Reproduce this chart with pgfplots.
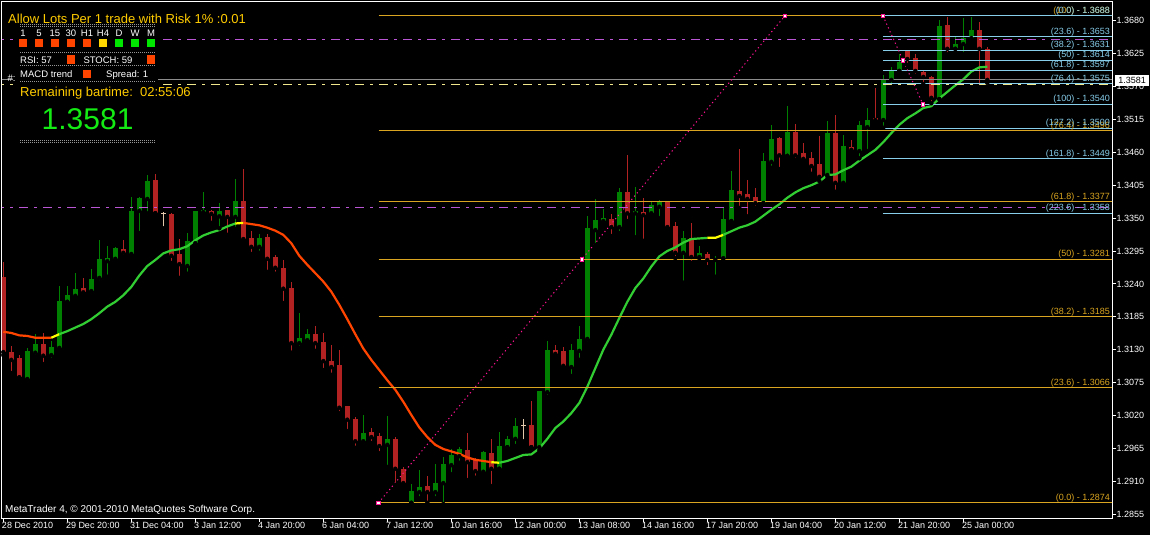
\documentclass[border=0pt]{standalone}
\usepackage{pgfplots}
\pgfplotsset{compat=1.18}
\usepackage{pgfplotstable}
\usepackage{fontspec}
\setmainfont{Liberation Sans}

\definecolor{mtred}{RGB}{178,34,34}
\definecolor{mtgreen}{RGB}{0,128,0}
\definecolor{doji}{RGB}{225,200,170}
\definecolor{maorange}{RGB}{255,69,0}
\definecolor{magreen}{RGB}{50,205,50}
\definecolor{mayellow}{RGB}{255,255,0}
\definecolor{fibor}{RGB}{218,165,32}
\definecolor{fibbl}{RGB}{135,206,235}
\definecolor{orchid}{RGB}{186,85,211}
\definecolor{trend}{RGB}{255,20,147}
\definecolor{bidgray}{RGB}{140,140,140}
\definecolor{khaki}{RGB}{240,230,140}
\definecolor{txtgold}{RGB}{255,204,0}
\definecolor{biggreen}{RGB}{20,235,20}
\definecolor{sqred}{RGB}{255,69,0}
\definecolor{sqyel}{RGB}{255,215,0}
\definecolor{sqgrn}{RGB}{0,230,0}
\definecolor{dots}{RGB}{150,150,150}

\newcommand{\fs}[1]{\fontsize{#1}{#1}\selectfont}
\newcommand{\fiblab}[3]{\node[anchor=base east, inner sep=0pt, text=#1, font=\fs{9}, yshift=2.5pt] at (axis cs:138.34,#2) {#3};}

% H4 bars: index, open, high, low, close, type (1 up, -1 down, 0 doji)
\pgfplotstableread{
i o h l c t
0 1.3252 1.3277 1.3121 1.3126 -1
1 1.3126 1.3136 1.3091 1.3113 -1
2 1.3116 1.3121 1.3083 1.3084 -1
3 1.3081 1.3133 1.3080 1.3128 1
4 1.3125 1.3156 1.3118 1.3140 1
5 1.3140 1.3158 1.3106 1.3120 -1
6 1.3121 1.3145 1.3113 1.3135 1
7 1.3133 1.3237 1.3128 1.3211 1
8 1.3210 1.3237 1.3210 1.3221 1
9 1.3220 1.3258 1.3216 1.3232 1
10 1.3233 1.3250 1.3223 1.3226 -1
11 1.3228 1.3265 1.3225 1.3248 1
12 1.3250 1.3313 1.3243 1.3282 1
13 1.3278 1.3303 1.3252 1.3283 1
14 1.3282 1.3302 1.3277 1.3300 1
15 1.3298 1.3313 1.3285 1.3292 -1
16 1.3290 1.3385 1.3287 1.3362 1
17 1.3362 1.3385 1.3325 1.3384 1
18 1.3382 1.3422 1.3358 1.3412 1
19 1.3414 1.3424 1.3358 1.3358 -1
20 1.3358 1.3360 1.3333 1.3358 0
21 1.3357 1.3358 1.3275 1.3287 -1
22 1.3290 1.3315 1.3250 1.3273 -1
23 1.3270 1.3325 1.3257 1.3312 1
24 1.3308 1.3362 1.3302 1.3362 1
25 1.3360 1.3394 1.3355 1.3364 1
26 1.3362 1.3364 1.3342 1.3357 -1
27 1.3353 1.3375 1.3333 1.3362 1
28 1.3364 1.3364 1.3322 1.3352 -1
29 1.3352 1.3415 1.3332 1.3379 1
30 1.3379 1.3432 1.3312 1.3315 -1
31 1.3317 1.3328 1.3290 1.3302 -1
32 1.3302 1.3323 1.3292 1.3317 1
33 1.3318 1.3323 1.3260 1.3282 -1
34 1.3285 1.3288 1.3257 1.3267 -1
35 1.3267 1.3280 1.3208 1.3232 -1
36 1.3233 1.3243 1.3125 1.3141 -1
37 1.3141 1.3191 1.3133 1.3150 1
38 1.3146 1.3165 1.3140 1.3156 1
39 1.3156 1.3170 1.3128 1.3141 -1
40 1.3143 1.3158 1.3096 1.3111 -1
41 1.3111 1.3138 1.3088 1.3101 -1
42 1.3104 1.3130 1.3024 1.3033 -1
43 1.3036 1.3036 1.2994 1.3013 -1
44 1.3014 1.3018 1.2966 1.2977 -1
45 1.2977 1.3021 1.2972 1.2991 1
46 1.2992 1.2999 1.2974 1.2984 -1
47 1.2986 1.2991 1.2957 1.2969 -1
48 1.2971 1.3019 1.2934 1.2981 1
49 1.2981 1.2984 1.2904 1.2931 -1
50 1.2931 1.2934 1.2902 1.2907 -1
51 1.2874 1.2906 1.2874 1.2894 1
52 1.2892 1.2929 1.2882 1.2901 1
53 1.2902 1.2919 1.2874 1.2892 -1
54 1.2892 1.2939 1.2882 1.2907 1
55 1.2907 1.2951 1.2872 1.2939 1
56 1.2937 1.2964 1.2922 1.2954 1
57 1.2952 1.2967 1.2941 1.2964 1
58 1.2962 1.2991 1.2912 1.2942 -1
59 1.2946 1.2949 1.2916 1.2927 -1
60 1.2926 1.2961 1.2924 1.2959 1
61 1.2957 1.2981 1.2902 1.2931 -1
62 1.2931 1.2992 1.2931 1.2969 1
63 1.2967 1.2986 1.2967 1.2981 1
64 1.2981 1.3016 1.2969 1.3002 1
65 1.3004 1.3014 1.2977 1.3004 0
66 1.3004 1.3044 1.2967 1.2967 -1
67 1.2967 1.3061 1.2962 1.3061 1
68 1.3059 1.3145 1.3051 1.3130 1
69 1.3130 1.3138 1.3121 1.3123 -1
70 1.3128 1.3135 1.3098 1.3103 -1
71 1.3101 1.3140 1.3086 1.3130 1
72 1.3128 1.3170 1.3113 1.3148 1
73 1.3148 1.3353 1.3141 1.3333 1
74 1.3330 1.3382 1.3305 1.3347 1
75 1.3345 1.3365 1.3340 1.3350 1
76 1.3348 1.3357 1.3320 1.3335 -1
77 1.3335 1.3400 1.3325 1.3394 1
78 1.3394 1.3455 1.3345 1.3358 -1
79 1.3358 1.3402 1.3318 1.3362 1
80 1.3360 1.3384 1.3312 1.3355 -1
81 1.3358 1.3379 1.3352 1.3372 1
82 1.3369 1.3380 1.3350 1.3379 1
83 1.3377 1.3377 1.3332 1.3335 -1
84 1.3337 1.3343 1.3283 1.3292 -1
85 1.3292 1.3328 1.3242 1.3317 1
86 1.3317 1.3342 1.3275 1.3285 -1
87 1.3285 1.3303 1.3283 1.3292 1
88 1.3290 1.3293 1.3268 1.3280 -1
89 1.3280 1.3287 1.3252 1.3282 1
90 1.3283 1.3367 1.3282 1.3348 1
91 1.3345 1.3429 1.3345 1.3397 1
92 1.3395 1.3466 1.3367 1.3387 -1
93 1.3390 1.3414 1.3353 1.3382 -1
94 1.3385 1.3400 1.3367 1.3375 -1
95 1.3375 1.3459 1.3375 1.3445 1
96 1.3444 1.3506 1.3434 1.3482 1
97 1.3484 1.3486 1.3432 1.3455 -1
98 1.3454 1.3537 1.3454 1.3494 1
99 1.3494 1.3507 1.3447 1.3455 -1
100 1.3459 1.3476 1.3447 1.3449 -1
101 1.3450 1.3461 1.3424 1.3437 -1
102 1.3440 1.3487 1.3412 1.3419 -1
103 1.3422 1.3512 1.3420 1.3492 1
104 1.3492 1.3522 1.3394 1.3409 -1
105 1.3409 1.3489 1.3407 1.3471 1
106 1.3469 1.3481 1.3459 1.3464 -1
107 1.3462 1.3512 1.3450 1.3506 1
108 1.3502 1.3534 1.3462 1.3514 1
109 1.3517 1.3567 1.3511 1.3514 -1
110 1.3514 1.3589 1.3501 1.3583 1
111 1.3581 1.3603 1.3569 1.3598 1
112 1.3596 1.3624 1.3596 1.3611 1
113 1.3629 1.3631 1.3606 1.3616 -1
114 1.3618 1.3624 1.3588 1.3596 -1
115 1.3594 1.3598 1.3574 1.3586 -1
116 1.3586 1.3588 1.3542 1.3551 -1
117 1.3549 1.3681 1.3549 1.3671 1
118 1.3673 1.3686 1.3624 1.3633 -1
119 1.3633 1.3654 1.3633 1.3641 1
120 1.3641 1.3684 1.3624 1.3651 1
121 1.3651 1.3686 1.3648 1.3664 1
122 1.3664 1.3678 1.3569 1.3633 -1
123 1.3633 1.3636 1.3576 1.3581 -1
}\bars

% moving average
\pgfplotstableread{
i v
0 1.3160
1 1.3158
2 1.3154
3 1.3153
4 1.3150
5 1.3150
6 1.3150
7 1.3156
8 1.3161
9 1.3167
10 1.3173
11 1.3181
12 1.3191
13 1.3202
14 1.3210
15 1.3221
16 1.3235
17 1.3254
18 1.3270
19 1.3280
20 1.3291
21 1.3296
22 1.3298
23 1.3303
24 1.3313
25 1.3321
26 1.3326
27 1.3330
28 1.3336
29 1.3341
30 1.3342
31 1.3340
32 1.3338
33 1.3334
34 1.3329
35 1.3322
36 1.3308
37 1.3287
38 1.3272
39 1.3258
40 1.3244
41 1.3227
42 1.3205
43 1.3181
44 1.3156
45 1.3132
46 1.3113
47 1.3096
48 1.3079
49 1.3063
50 1.3043
51 1.3021
52 1.3000
53 1.2984
54 1.2971
55 1.2964
56 1.2960
57 1.2956
58 1.2950
59 1.2946
60 1.2944
61 1.2942
62 1.2941
63 1.2944
64 1.2949
65 1.2954
66 1.2955
67 1.2965
68 1.2981
69 1.2999
70 1.3010
71 1.3024
72 1.3041
73 1.3068
74 1.3099
75 1.3130
76 1.3155
77 1.3183
78 1.3210
79 1.3233
80 1.3249
81 1.3269
82 1.3286
83 1.3295
84 1.3301
85 1.3309
86 1.3315
87 1.3316
88 1.3317
89 1.3317
90 1.3322
91 1.3328
92 1.3334
93 1.3338
94 1.3344
95 1.3354
96 1.3364
97 1.3373
98 1.3384
99 1.3393
100 1.3400
101 1.3405
102 1.3411
103 1.3422
104 1.3423
105 1.3430
106 1.3436
107 1.3446
108 1.3455
109 1.3464
110 1.3477
111 1.3492
112 1.3506
113 1.3517
114 1.3525
115 1.3534
116 1.3537
117 1.3550
118 1.3561
119 1.3572
120 1.3582
121 1.3595
122 1.3602
123 1.3603
}\ma

\pgfplotsset{
  cwick/.style 2 args={only marks, mark=none, forget plot,
    restrict expr to domain={\thisrow{t}}{#1},
    error bars/.cd, y dir=plus, y explicit, error mark=none,
    error bar style={draw=#2, line width=1pt}},
  cbody/.style 2 args={only marks, mark=none, forget plot,
    restrict expr to domain={\thisrow{t}}{#1},
    error bars/.cd, y dir=plus, y explicit, error mark=none,
    error bar style={draw=#2, line width=5pt}},
  maline/.style 2 args={#1, line width=2.2pt, line join=round, forget plot,
    restrict x to domain=#2},
  hline/.style={line width=1pt, forget plot},
}

\begin{document}
\begin{tikzpicture}[x=1pt,y=1pt]
\useasboundingbox (0,0) rectangle (1150,-535);
\fill[black] (0,0) rectangle (1150,-535);
\begin{axis}[
  at={(2pt,-518pt)}, anchor=south west,
  scale only axis, width=1110pt, height=516pt,
  xmin=-0.1625, xmax=138.5875, ymin=1.284867, ymax=1.371126,
  axis line style={white, line width=1pt},
  tick style={white, line width=1pt},
  tick align=outside, major tick length=4pt,
  xtick pos=left, ytick pos=right, xticklabel pos=left, yticklabel pos=right,
  xtick={0,8,...,120},
  xticklabels={28 Dec 2010, 29 Dec 20:00, 31 Dec 04:00, 3 Jan 12:00, 4 Jan 20:00, 6 Jan 04:00, 7 Jan 12:00, 10 Jan 16:00, 12 Jan 00:00, 13 Jan 08:00, 14 Jan 16:00, 17 Jan 20:00, 19 Jan 04:00, 20 Jan 12:00, 21 Jan 20:00, 25 Jan 00:00},
  ytick={1.2855,1.2910,1.2965,1.3020,1.3075,1.3130,1.3185,1.3240,1.3295,1.3350,1.3405,1.3460,1.3515,1.3570,1.3625,1.3680},
  scaled y ticks=false,
  /pgf/number format/fixed, /pgf/number format/fixed zerofill,
  /pgf/number format/precision=4, /pgf/number format/assume math mode=true,
  yticklabel style={text=white, font=\fs{9}, anchor=west, inner sep=0pt, xshift=0.5pt},
  xticklabel style={text=white, font=\fs{9}, anchor=north west, inner sep=0pt, xshift=-1.5pt},
]
% wicks
\addplot[cwick={0.5:1.5}{mtgreen}] table[x=i, y=l, y error expr=\thisrow{h}-\thisrow{l}] {\bars};
\addplot[cwick={-1.5:-0.5}{mtred}] table[x=i, y=l, y error expr=\thisrow{h}-\thisrow{l}] {\bars};
\addplot[cwick={-0.5:0.5}{doji}] table[x=i, y=l, y error expr=\thisrow{h}-\thisrow{l}] {\bars};
% bodies
\addplot[cbody={0.5:1.5}{mtgreen}] table[x=i, y=o, y error expr=\thisrow{c}-\thisrow{o}] {\bars};
\addplot[cbody={-1.5:-0.5}{mtred}] table[x=i, y=c, y error expr=\thisrow{o}-\thisrow{c}] {\bars};
\addplot[only marks, mark=-, mark size=2.5pt, mark options={draw=doji, line width=1pt}, forget plot,
  restrict expr to domain={\thisrow{t}}{-0.5:0.5}] table[x=i, y=o] {\bars};

% moving average, coloured by direction
\addplot[maline={maorange}{0:6}] table[x=i, y=v] {\ma};
\addplot[maline={mayellow}{6:7}] table[x=i, y=v] {\ma};
\addplot[maline={magreen}{7:29}] table[x=i, y=v] {\ma};
\addplot[maline={mayellow}{29:30}] table[x=i, y=v] {\ma};
\addplot[maline={maorange}{30:61}] table[x=i, y=v] {\ma};
\addplot[maline={mayellow}{61:62}] table[x=i, y=v] {\ma};
\addplot[maline={magreen}{62:88}] table[x=i, y=v] {\ma};
\addplot[maline={mayellow}{88:90}] table[x=i, y=v] {\ma};
\addplot[maline={magreen}{90:123}] table[x=i, y=v] {\ma};

% horizontal lines
\addplot[hline, orchid, dash pattern=on 9pt off 6pt on 3pt off 6pt] coordinates {(-1,1.3649) (140,1.3649)};
\addplot[hline, orchid, dash pattern=on 9pt off 6pt on 3pt off 6pt] coordinates {(-1,1.3368) (140,1.3368)};
\addplot[hline, bidgray] coordinates {(-1,1.3581) (140,1.3581)};
\addplot[hline, khaki, dash pattern=on 9pt off 6pt on 3pt off 6pt] coordinates {(-1,1.3573) (140,1.3573)};

% fibonacci 1 (orange)
\addplot[hline, fibor] coordinates {(46.9,1.2874) (140,1.2874)};
\addplot[hline, fibor] coordinates {(46.9,1.3066) (140,1.3066)};
\addplot[hline, fibor] coordinates {(46.9,1.3185) (140,1.3185)};
\addplot[hline, fibor] coordinates {(46.9,1.3281) (140,1.3281)};
\addplot[hline, fibor] coordinates {(46.9,1.3377) (140,1.3377)};
\addplot[hline, fibor] coordinates {(46.9,1.3496) (140,1.3496)};
\addplot[hline, fibor] coordinates {(46.9,1.3688) (140,1.3688)};
% fibonacci 2 (blue)
\addplot[hline, fibbl] coordinates {(109.96,1.3688) (140,1.3688)};
\addplot[hline, fibbl] coordinates {(109.96,1.3653) (140,1.3653)};
\addplot[hline, fibbl] coordinates {(109.96,1.3631) (140,1.3631)};
\addplot[hline, fibbl] coordinates {(109.96,1.3614) (140,1.3614)};
\addplot[hline, fibbl] coordinates {(109.96,1.3597) (140,1.3597)};
\addplot[hline, fibbl] coordinates {(109.96,1.3575) (140,1.3575)};
\addplot[hline, fibbl] coordinates {(109.96,1.3540) (140,1.3540)};
\addplot[hline, fibbl] coordinates {(109.96,1.3500) (140,1.3500)};
\addplot[hline, fibbl] coordinates {(109.96,1.3449) (140,1.3449)};
\addplot[hline, fibbl] coordinates {(109.96,1.3358) (140,1.3358)};

% trend lines of the fibonacci objects
\addplot[hline, trend, dash pattern=on 1.2pt off 3pt] coordinates {(46.9,1.2874) (97.7,1.3688)};
\addplot[hline, trend, dash pattern=on 1.2pt off 3pt] coordinates {(109.96,1.3688) (114.96,1.3540)};
\addplot[only marks, mark=square*, mark size=1.8pt, mark options={fill=white, draw=trend, line width=0.6pt}, forget plot]
  coordinates {(46.9,1.2874) (72.3,1.3281) (97.7,1.3688) (109.96,1.3688) (112.46,1.3614) (114.96,1.3540)};

\fiblab{fibor}{1.2874}{(0.0) - 1.2874}
\fiblab{fibor}{1.3066}{(23.6) - 1.3066}
\fiblab{fibor}{1.3185}{(38.2) - 1.3185}
\fiblab{fibor}{1.3281}{(50) - 1.3281}
\fiblab{fibor}{1.3377}{(61.8) - 1.3377}
\fiblab{fibor}{1.3496}{(76.4) - 1.3496}
\fiblab{fibor}{1.3688}{(100) - 1.3688}
\fiblab{fibbl}{1.3688}{(0.0) - 1.3688}
\fiblab{fibbl}{1.3653}{(23.6) - 1.3653}
\fiblab{fibbl}{1.3631}{(38.2) - 1.3631}
\fiblab{fibbl}{1.3614}{(50) - 1.3614}
\fiblab{fibbl}{1.3597}{(61.8) - 1.3597}
\fiblab{fibbl}{1.3575}{(76.4) - 1.3575}
\fiblab{fibbl}{1.3540}{(100) - 1.3540}
\fiblab{fibbl}{1.3500}{(127.2) - 1.3500}
\fiblab{fibbl}{1.3449}{(161.8) - 1.3449}
\fiblab{fibbl}{1.3358}{(223.6) - 1.3358}
\end{axis}

% current price box
\node[fill=white, text=black, inner sep=0pt, minimum width=34pt, minimum height=11pt, font=\fs{9}] at (1132,-80) {1.3581};

% copyright
\node[anchor=base west, inner sep=0pt, text=white, font=\fs{10}] at (5,-512) {MetaTrader 4, © 2001-2010 MetaQuotes Software Corp.};

% info panel
\fill[black] (13,-22) rectangle (158,-88);
\node[anchor=base west, inner sep=0pt, text=txtgold, font=\fs{13}] at (8,-24) {Allow Lots Per 1 trade with Risk 1\% :0.01};
\draw[dots, line width=0.8pt, dash pattern=on 1pt off 1pt] (20,-24.7) -- (155,-24.7);
\draw[dots, line width=0.8pt, dash pattern=on 1pt off 1pt] (20,-26.5) -- (155,-26.5);
\foreach \x/\t in {23/1, 39/5, 55/15, 71/30, 87/H1, 103/H4, 119/D, 135/W, 151/M}
  \node[anchor=base, inner sep=0pt, text=white, font=\fs{9.5}] at (\x,-36.6) {\t};
\foreach \x in {19,35,51,67,83} \fill[sqred] (\x,-39.5) rectangle ++(8,-8);
\fill[sqyel] (99,-39.5) rectangle ++(8,-8);
\foreach \x in {115,131,147} \fill[sqgrn] (\x,-39.5) rectangle ++(8,-8);
\draw[dots, line width=0.8pt, dash pattern=on 1pt off 1pt] (20,-52.3) -- (155,-52.3);
\node[anchor=base west, inner sep=0pt, text=white, font=\fs{9.5}] at (20,-63.3) {RSI: 57};
\fill[sqred] (67,-55.5) rectangle ++(8,-8);
\node[anchor=base west, inner sep=0pt, text=white, font=\fs{9.5}] at (83.3,-63.3) {STOCH: 59};
\fill[sqred] (147,-55.5) rectangle ++(8,-8);
\draw[dots, line width=0.8pt, dash pattern=on 1pt off 1pt] (20,-65.7) -- (155,-65.7);
\node[anchor=base west, inner sep=0pt, text=white, font=\fs{9.5}] at (20,-77.3) {MACD trend};
\fill[sqred] (83,-69.5) rectangle ++(8,-8);
\node[anchor=base west, inner sep=0pt, text=white, font=\fs{9.5}] at (106,-77.3) {Spread: 1};
\draw[dots, line width=0.8pt, dash pattern=on 1pt off 1pt] (20,-81) -- (155,-81);
\node[anchor=base west, inner sep=0pt, text=white, font=\fs{9.5}] at (7.5,-81.5) {\#:};
\node[anchor=base west, inner sep=0pt, text=txtgold, font=\fs{13}] at (20,-96) {Remaining bartime:\ \ 02:55:06};
\node[anchor=base west, inner sep=0pt, text=biggreen, font=\fs{30}] at (41.5,-129.3) {1.3581};
\draw[dots, line width=0.8pt, dash pattern=on 1pt off 1pt] (20,-140.2) -- (155,-140.2);
\draw[dots, line width=0.8pt, dash pattern=on 1pt off 1pt] (20,-142) -- (155,-142);
\end{tikzpicture}
\end{document}
